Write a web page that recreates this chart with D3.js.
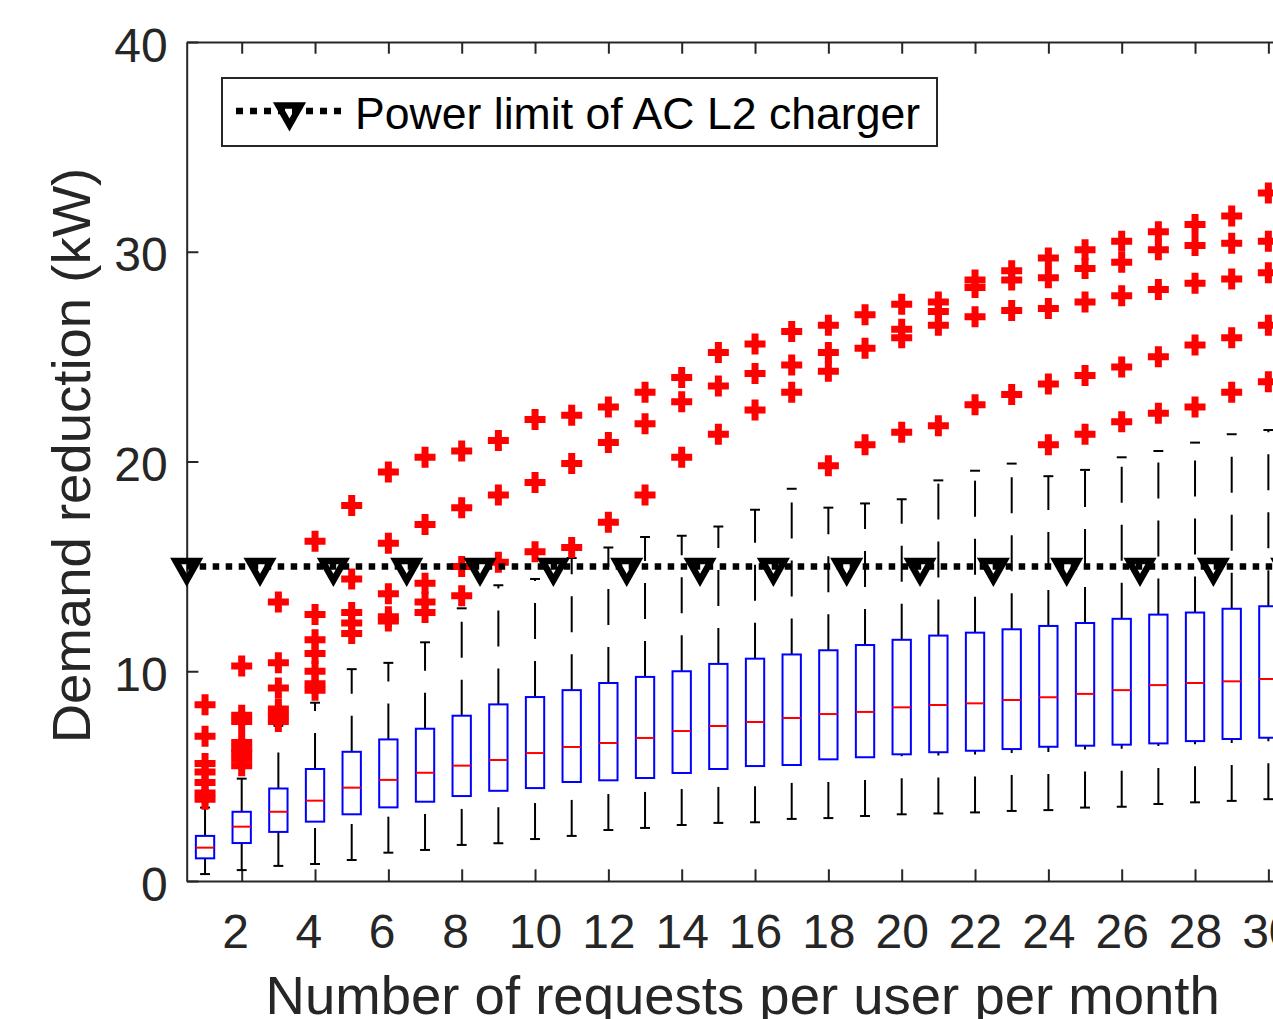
<!DOCTYPE html>
<html>
<head>
<meta charset="utf-8">
<script src="https://cdn.jsdelivr.net/npm/d3@7"></script>
<style>
  html, body { margin: 0; padding: 0; background: #fff; }
  svg { display: block; font-family: "Liberation Sans", Arial, Helvetica, sans-serif; }
</style>
</head>
<body>
<div id="chart"></div>
<script>
// requests per user per month (one box per value)
const REQUESTS = d3.range(1, 31);

// box statistics (kW)
const WHISKER_LOW = [0.33, 0.52, 0.72, 0.81, 1.0, 1.35, 1.48, 1.72, 1.8, 2.0,
  2.15, 2.43, 2.53, 2.67, 2.77, 2.8, 2.96, 3.0, 3.1, 3.18,
  3.22, 3.27, 3.34, 3.38, 3.5, 3.54, 3.67, 3.75, 3.82, 3.9];
const Q1 = [1.08, 1.81, 2.34, 2.83, 3.18, 3.51, 3.78, 4.05, 4.30, 4.43,
  4.72, 4.8, 4.91, 5.15, 5.34, 5.48, 5.53, 5.8, 5.9, 6.04,
  6.14, 6.21, 6.29, 6.4, 6.45, 6.5, 6.56, 6.67, 6.77, 6.83];
const MEDIAN = [1.59, 2.59, 3.30, 3.83, 4.45, 4.82, 5.16, 5.5, 5.77, 6.1,
  6.39, 6.58, 6.82, 7.15, 7.39, 7.58, 7.77, 7.96, 8.06, 8.28,
  8.39, 8.47, 8.63, 8.76, 8.92, 9.1, 9.34, 9.44, 9.52, 9.63];
const Q3 = [2.15, 3.30, 4.41, 5.34, 6.16, 6.75, 7.26, 7.88, 8.42, 8.77,
  9.1, 9.44, 9.73, 10.0, 10.35, 10.6, 10.8, 11.0, 11.25, 11.5,
  11.7, 11.84, 12.0, 12.16, 12.3, 12.5, 12.7, 12.8, 12.98, 13.1];
const WHISKER_HIGH = [3.5, 4.88, 7.4, 8.5, 10.1, 10.4, 11.38, 13.0, 14.1, 14.4,
  15.4, 15.9, 16.4, 16.46, 16.9, 17.7, 18.7, 17.8, 18.0, 18.2,
  19.1, 19.56, 19.9, 19.3, 19.6, 20.2, 20.5, 20.9, 21.3, 21.5];
const OUTLIERS = [
  [3.9, 4.2, 4.7, 5.2, 5.6, 6.9, 8.4],
  [5.5, 5.8, 6.1, 6.3, 6.6, 7.6, 7.9, 10.25],
  [7.6, 7.9, 8.2, 9.2, 10.4, 13.3],
  [9.1, 9.4, 10.0, 10.85, 11.5, 12.7, 16.2],
  [11.8, 12.3, 12.8, 14.4, 17.9],
  [12.4, 12.6, 13.7, 16.1, 19.5],
  [12.8, 13.3, 14.2, 17.0, 20.2],
  [13.6, 15.0, 17.8, 20.5],
  [15.2, 18.4, 21.0],
  [15.7, 19.0, 22.0],
  [15.9, 19.9, 22.2],
  [17.1, 20.9, 22.6],
  [18.4, 21.8, 23.3],
  [20.2, 22.85, 24.0],
  [21.3, 23.6, 25.2],
  [22.45, 24.2, 25.6],
  [23.3, 24.6, 26.2],
  [19.8, 24.3, 25.2, 26.5],
  [20.8, 25.4, 27.0],
  [21.4, 25.9, 26.3, 27.5],
  [21.7, 26.5, 27.15, 27.6],
  [22.7, 26.9, 28.3, 28.65],
  [23.2, 27.2, 28.65, 29.1],
  [20.8, 23.7, 27.3, 28.76, 29.7],
  [21.3, 24.1, 27.6, 29.2, 30.1],
  [21.9, 24.5, 27.9, 29.5, 30.5],
  [22.3, 25.0, 28.2, 30.1, 30.95],
  [22.6, 25.55, 28.5, 30.3, 31.3],
  [23.3, 25.9, 28.7, 30.4, 31.7],
  [23.8, 26.5, 29.0, 30.5, 32.8]
];

// AC L2 charger power limit line
const LIMIT_X = d3.range(0.5, 31, 2);
const LIMIT_KW = 15;
const LEGEND_LABEL = 'Power limit of AC L2 charger';

const X_TICKS = d3.range(2, 31, 2);
const Y_TICKS = [0, 10, 20, 30, 40];

const AXIS_COLOR = '#262626';
const TRI_PATH = 'M-11,-5.5L11,-5.5L0,14Z';
const PLUS_PATH = 'M-7,0H7M0,-7V7';

function draw() {
  const W = 1273, H = 1019;
  const left = 186.7, right = 1286.7, top = 42, bottom = 881;
  const tickLen = 11.7;

  const svg = d3.select('#chart').append('svg')
    .attr('width', W)
    .attr('height', H);

  const x = d3.scaleLinear().domain([0.5, 30.5]).range([left, right]);
  const y = d3.scaleLinear().domain([0, 40]).range([bottom, top]);
  const boxHalf = x(1.25) - x(1);
  const capHalf = x(1.135) - x(1);

  // axes (ticks point inwards, box on)
  const styleAxis = g => {
    g.select('.domain').attr('stroke', AXIS_COLOR).attr('stroke-width', 2);
    g.selectAll('.tick line').attr('stroke', AXIS_COLOR).attr('stroke-width', 2);
    g.selectAll('.tick text').attr('fill', AXIS_COLOR).attr('font-size', 48);
  };

  // single digit labels carry a trailing space, as in the original figure
  const xFmt = d => d < 10 ? d + '\u00a0' : String(d);

  svg.append('g')
    .attr('transform', `translate(0,${bottom})`)
    .call(d3.axisBottom(x).tickValues(X_TICKS).tickFormat(xFmt)
      .tickSizeInner(-tickLen).tickSizeOuter(0).tickPadding(0))
    .call(styleAxis)
    .call(g => g.selectAll('.tick text').attr('y', 67).attr('dy', 0));

  svg.append('g')
    .attr('transform', `translate(0,${top})`)
    .call(d3.axisTop(x).tickValues(X_TICKS).tickSizeInner(-tickLen).tickSizeOuter(0).tickFormat(''))
    .call(styleAxis);

  svg.append('g')
    .attr('transform', `translate(${left},0)`)
    .call(d3.axisLeft(y).tickValues(Y_TICKS).tickSizeInner(-tickLen).tickSizeOuter(0).tickPadding(19))
    .call(styleAxis)
    .call(g => g.selectAll('.tick text').attr('dy', '0.4em'));

  svg.append('g')
    .attr('transform', `translate(${right},0)`)
    .call(d3.axisRight(y).tickValues(Y_TICKS).tickSizeInner(-tickLen).tickSizeOuter(0).tickFormat(''))
    .call(styleAxis);

  // axis labels
  svg.append('text')
    .attr('x', (left + right) / 2 + 6)
    .attr('y', 1014)
    .attr('text-anchor', 'middle')
    .attr('font-size', 54.5)
    .attr('fill', AXIS_COLOR)
    .text('Number of requests per user per month');

  svg.append('text')
    .attr('transform', `translate(90,${(top + bottom) / 2 - 6}) rotate(-90)`)
    .attr('text-anchor', 'middle')
    .attr('font-size', 54.5)
    .attr('fill', AXIS_COLOR)
    .text('Demand reduction (kW)');

  // boxes
  const boxes = svg.append('g').attr('class', 'boxes');
  REQUESTS.forEach((r, i) => {
    const cx = x(r);
    const g = boxes.append('g');

    // dashed whiskers, drawn upwards from the low end
    g.append('line')
      .attr('x1', cx).attr('x2', cx)
      .attr('y1', y(WHISKER_LOW[i])).attr('y2', y(Q1[i]))
      .attr('stroke', '#000').attr('stroke-width', 2)
      .attr('stroke-dasharray', '36,22');
    g.append('line')
      .attr('x1', cx).attr('x2', cx)
      .attr('y1', y(Q3[i])).attr('y2', y(WHISKER_HIGH[i]))
      .attr('stroke', '#000').attr('stroke-width', 2)
      .attr('stroke-dasharray', '36,22');

    [WHISKER_LOW[i], WHISKER_HIGH[i]].forEach(v => {
      g.append('line')
        .attr('x1', cx - capHalf).attr('x2', cx + capHalf)
        .attr('y1', y(v)).attr('y2', y(v))
        .attr('stroke', '#000').attr('stroke-width', 2);
    });

    g.append('rect')
      .attr('x', cx - boxHalf)
      .attr('y', y(Q3[i]))
      .attr('width', boxHalf * 2)
      .attr('height', y(Q1[i]) - y(Q3[i]))
      .attr('fill', 'none')
      .attr('stroke', '#0000FF')
      .attr('stroke-width', 2);

    g.append('line')
      .attr('x1', cx - boxHalf).attr('x2', cx + boxHalf)
      .attr('y1', y(MEDIAN[i])).attr('y2', y(MEDIAN[i]))
      .attr('stroke', '#FF0000').attr('stroke-width', 2);

    OUTLIERS[i].forEach(v => {
      g.append('path')
        .attr('d', PLUS_PATH)
        .attr('transform', `translate(${cx},${y(v)})`)
        .attr('fill', 'none')
        .attr('stroke', '#FF0000')
        .attr('stroke-width', 7)
        .attr('stroke-linecap', 'square');
    });
  });

  // power limit line with triangle markers
  const limitLine = d3.line().x(d => x(d)).y(() => y(LIMIT_KW));
  svg.append('path')
    .attr('d', limitLine(LIMIT_X))
    .attr('fill', 'none')
    .attr('stroke', '#000')
    .attr('stroke-width', 6.5)
    .attr('stroke-dasharray', '6.5,6.5');

  svg.append('g').selectAll('path')
    .data(LIMIT_X)
    .join('path')
    .attr('d', TRI_PATH)
    .attr('transform', d => `translate(${x(d)},${y(LIMIT_KW)})`)
    .attr('fill', 'none')
    .attr('stroke', '#000')
    .attr('stroke-width', 6.5)
    .attr('stroke-linejoin', 'miter');

  // legend
  const lg = svg.append('g').attr('class', 'legend');
  lg.append('rect')
    .attr('x', 222).attr('y', 78)
    .attr('width', 715).attr('height', 68)
    .attr('fill', '#fff')
    .attr('stroke', AXIS_COLOR)
    .attr('stroke-width', 2);
  lg.append('line')
    .attr('x1', 236).attr('x2', 343)
    .attr('y1', 111).attr('y2', 111)
    .attr('stroke', '#000')
    .attr('stroke-width', 6.5)
    .attr('stroke-dasharray', '7,7');
  lg.append('path')
    .attr('d', TRI_PATH)
    .attr('transform', 'translate(289.5,111)')
    .attr('fill', 'none')
    .attr('stroke', '#000')
    .attr('stroke-width', 6.5);
  lg.append('text')
    .attr('x', 355).attr('y', 129)
    .attr('font-size', 44.6)
    .attr('fill', '#000')
    .text(LEGEND_LABEL);
}

draw();
</script>
</body>
</html>
